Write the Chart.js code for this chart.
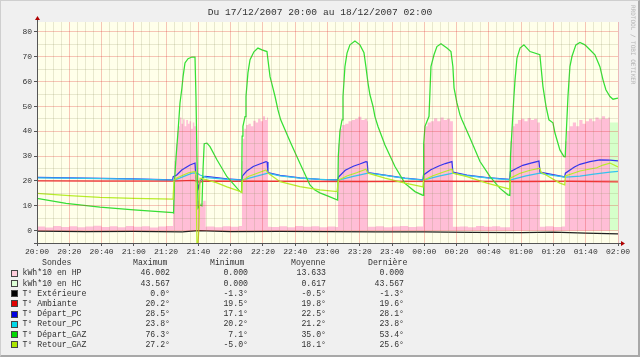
<!DOCTYPE html>
<html><head><meta charset="utf-8">
<script src="https://cdn.jsdelivr.net/npm/chart.js@4/dist/chart.umd.min.js"></script>
<style>
html,body{margin:0;padding:0;background:#f0f0f0;}
#frame{position:relative;width:640px;height:357px;background:#f0f0f0;overflow:hidden;font-family:'Liberation Mono','DejaVu Sans Mono',monospace;color:#333;}
#wrap{position:absolute;left:0;top:0;width:640px;height:357px;}
#border{position:absolute;left:0;top:0;width:640px;height:357px;box-sizing:border-box;border:1px solid #cfcfcf;border-right:2px solid #a8a8a8;border-bottom:2px solid #a8a8a8;pointer-events:none;}
#title{position:absolute;left:0;top:6px;width:640px;text-align:center;font-size:9.6px;line-height:13px;color:#333;white-space:pre;}
#wm{position:absolute;left:630px;top:5px;writing-mode:vertical-rl;font-size:6px;color:#b4b4b4;font-family:'DejaVu Sans Mono',monospace;white-space:pre;}
.cell{position:absolute;font-size:8.2px;line-height:10px;white-space:pre;color:#333;}
.r{text-align:right;}
.box{position:absolute;width:7px;height:7px;box-sizing:border-box;border:1px solid #444;}
</style></head>
<body>
<div id="frame">
<div id="wrap"><canvas id="c"></canvas></div>
<div id="title">Du 17/12/2007 20:00 au 18/12/2007 02:00</div>
<div id="wm">RRDTOOL / TOBI OETIKER</div>
<div id="legend"></div>
<div id="border"></div>
</div>
<script>
// ---- time axis (minutes after 20:00) and tick labels
const X_MIN = 0, X_MAX = 360;
const Y_MIN = -5, Y_MAX = 84;

// ---- series (time in minutes, value)
const T_HP = [0,5,10,15,20,25,30,35,40,45,50,55,60,65,70,75,80,
 84.3,85.2,86.0,86.8,87.7,88.6,89.5,90.5,91.5,92.5,93.5,94.5,95.5,96.5,97.5,98.5,99.1,101,103,104.5,
 105,110,115,120,125,
 127,127.6,128.5,129.5,131,132.5,134,135.5,137,138.5,140,141.3,142.5,143.1,
 145,150,155,160,165,170,175,180,185,
 186.5,187.5,189,191,193,195,197,199,201,203,204.5,205.1,
 210,215,220,225,230,235,
 239.2,240.5,242,244,246,248,250,252,254,256,257.7,
 262,267,272,277,282,287,
 293.1,294.5,296,298,300,302,304,306,308,310,311.6,
 315,320,325,
 327.1,328.5,330,332,334,336,338,340,342,344,346,348,350,352,354,355,360];
const V_HP = [1.6,1.2,1.8,1.4,1.7,1.3,1.6,1.9,1.4,1.7,1.3,1.8,1.5,1.7,1.2,1.6,1.8,
 18,28,35,40,42,45.5,43,44.8,42,44.5,43,44,41,43.5,42,40,12,11,12,1.5,
 1.6,1.3,1.7,1.5,1.8,
 28,37,41,42.5,43,42,44.2,43.5,45,44,46,44.5,45.5,1.5,
 1.4,1.7,1.3,1.8,1.5,1.7,1.3,1.6,1.4,
 35,41,42.5,43,44,44.5,45,45.8,44.5,45,44,1.5,
 1.7,1.3,1.6,1.8,1.4,1.6,
 35,42,43.5,44,45.2,44,45.5,44.5,45,44,1.5,
 1.6,1.3,1.8,1.5,1.7,1.3,
 36,42,43,44.5,45,44,45.3,44.5,45,43.5,1.5,
 1.7,1.4,1.6,
 36,40,42,43.5,42,44.5,43,44,45,44,45.5,44.8,46,45,45.5,0,0];

const T_HC = [0,355,360];
const V_HC = [0,43.567,43.567];

const T_EX = [0,30,60,90,100,120,150,180,210,240,270,300,320,340,360];
const V_EX = [-0.2,-0.4,-0.3,-0.5,0.0,-0.4,-0.3,-0.4,-0.5,-0.5,-0.7,-0.8,-0.6,-1.0,-1.3];

const T_AM = [0,40,84,97,100.5,104,150,200,250,300,330,360];
const V_AM = [20.0,19.9,19.9,20.2,19.5,19.9,19.8,19.7,19.8,19.7,19.8,19.6];

const T_DP = [0,30,60,84.0,84.4,86.6,89.7,94.8,97.9,98.6,99.3,100.2,101.0,102.5,104.0,107.2,117.7,126.9,127.3,130,
 134,138,141.9,142.6,143.1,150.6,162.9,175.3,186.4,186.8,191,196,200,203.8,204.6,205.1,215.6,228.0,239.1,239.5,
 244,249,253,257.1,257.7,266.4,278.8,292.9,293.3,297,301,306,311.0,311.7,319.7,327.0,327.4,333,336.4,342.6,348.8,355.0,360];
const V_DP = [21.4,21.1,20.8,20.4,21.7,22.4,24.4,26.4,27.2,19.8,19.5,17.1,19.7,21.3,21.8,21.6,20.8,20.4,22,24,
 25.8,26.8,27.8,27.6,23.3,22.2,21.2,20.6,20.4,21.6,24.3,25.9,26.8,27.8,27.6,23.3,22.3,21.1,20.4,22.4,
 24.5,26,27,27.8,23.5,22.3,21.3,20.6,23.7,25,26.3,27.2,28.0,23.5,22.5,21.6,23.1,25.6,26.7,27.8,28.5,28.4,28.1];

const T_RP = [0,30,60,84.3,85.5,91,96.5,99.5,101.0,105.3,117.7,127.0,128,135,142.5,143.5,150.6,162.9,175.3,186.5,
 188,196,205.1,215.6,228.0,239.2,240.5,249,257.7,266.4,278.8,293.1,294,303,311.6,315.4,327.1,330,336.4,345,355,360];
const V_RP = [21.2,21.0,20.7,20.3,20.4,21.8,23.2,23.0,22.4,21.3,20.6,20.3,20.5,21.7,23.0,23.0,22.0,21.1,20.6,20.3,
 20.5,21.8,23.1,22.2,21.0,20.3,20.5,21.9,23.1,22.1,21.2,20.4,20.5,22.0,23.1,22.6,21.5,21.6,21.9,22.7,23.5,23.8];

const T_DG = [0,18,39,60,84.3,84.6,85.2,86.2,87.4,88.6,89.8,90.5,91.7,93.6,96.0,97.9,98.5,99.1,99.8,101.0,
 102.2,102.9,103.6,105.3,107.2,111.5,117.7,125.8,126.8,127.1,127.6,128.9,129.5,130.7,132.0,134.4,136.9,139.4,142.5,143.1,
 144.4,146.2,147.5,149.3,151.0,156.8,162.9,169.1,172.2,175.3,180,186.3,186.7,187.7,189.0,189.6,190.8,192.1,193.9,197.0,
 200.1,202.6,203.8,205.1,206.3,208.2,209.4,211.3,215.6,221.8,228.0,234.2,238.5,239.2,239.6,240.4,242.9,244.1,246.0,247.8,
 250.3,254.0,256.5,257.7,258.4,260.2,262.1,263.3,268.3,274.5,280.7,286.9,291.8,293.0,293.4,294.3,295.5,296.2,297.4,299.3,
 301.7,305.5,311.6,312.3,313.5,315.4,317.2,319.7,320.9,324.0,326.5,327.3,328.0,329.0,330.2,331.5,333.9,336.4,339.5,342.6,
 345.7,348.8,350.7,352.5,355.0,356.9,360];
const V_DG = [13.0,11.0,9.4,8.3,7.2,7.1,20,30,40,51.4,57.4,62,67.5,69.2,69.9,69.9,54,30,9.1,10.3,
 10,25,35,35.2,33.8,28.5,21.7,15.7,15.4,38,42,45.9,54,63.5,68.8,72,73.5,72.8,72.1,68.8,
 62,57.4,54,48.6,44.6,35.9,27.1,18.4,16.3,15.2,14,12.3,30,40,44.6,54,66,71.5,74.8,76.3,
 74.8,71.6,66,59.4,54.7,50,45.9,41.9,34.5,25.8,19,15.7,14.4,14.2,35,42,46,66,70.8,74.1,
 75.2,73.5,72.1,66,57.5,51.4,46.6,44.6,37.3,27.8,21.7,17,14.4,14.2,30,40.5,54,60.7,69.5,73.5,
 74.8,72.1,70.8,66,58,50,44.6,43.4,39.4,32.5,29.8,29.7,40,54,66,70.2,74.8,75.8,74.8,72.8,
 70.8,66,60.7,56.7,54,52.9,53.4];

const T_RG = [0,20,39,60,84.3,84.9,86,90,94,97.9,98.5,99.1,99.8,100.4,101.0,105.3,111.5,117.7,125.8,126.9,
 127.2,131,136,141.9,143.1,150.6,162.9,175.3,185.9,186.4,186.8,192,198,203.8,205.1,215.6,228.0,238.5,239.1,239.5,
 245,251,257.1,257.7,266.4,278.8,292.9,293.3,299,305,311.6,312.3,315.4,324.0,327.0,327.4,336.4,346.8,350.7,355.0,356.9,360];
const V_RG = [15.0,14.1,13.4,13.0,12.7,20.3,21,22.2,23.3,23.8,22,-5,-5,2,21.1,20.4,19.2,17.6,15.8,15.3,
 20,21.8,23,24.4,23.2,19.7,17.7,16.4,15.7,15.7,20.3,22,23.3,24.7,23.1,21.1,19.1,17.7,17.6,20.3,
 22,23.4,24.7,23.1,21.7,19.1,16.7,21.1,23,24.2,25.1,23.5,22.4,19.1,18.4,22,24.0,25.3,26.4,27.2,26.6,25.6];

// ---- legend table
const LEG_LABELS = ['kWh*10 en HP','kWh*10 en HC','T° Extérieure','T° Ambiante','T° Départ_PC','T° Retour_PC','T° Départ_GAZ','T° Retour_GAZ'];
const LEG_MAX = ['46.002','43.567','0.0°','20.2°','28.5°','23.8°','76.3°','27.2°'];
const LEG_MIN = ['0.000','0.000','-1.3°','19.5°','17.1°','20.2°','7.1°','-5.0°'];
const LEG_AVG = ['13.633','0.617','-0.5°','19.8°','22.5°','21.2°','35.0°','18.1°'];
const LEG_LAST = ['0.000','43.567','-1.3°','19.6°','28.1°','23.8°','53.4°','25.6°'];
const LEG_BOX = ['#ffccdc','#dcffd6','#000000','#e00000','#0000e0','#00d8e8','#00d800','#aae600'];
const LEG_HEAD = ['Sondes','Maximum','Minimum','Moyenne','Dernière'];

// build legend
(function(){
  const L = document.getElementById('legend');
  const headX = [42,133,210,291,368];
  const rightX = [170,248,326,404];
  const add = (txt, css) => { const d=document.createElement('div'); d.className='cell'+(css.r?' r':''); d.textContent=txt;
    d.style.top=css.top+'px'; if(css.r){ d.style.right=(640-css.x)+'px'; } else { d.style.left=css.x+'px'; } L.appendChild(d); };
  LEG_HEAD.forEach((h,i)=>add(h,{x:headX[i],top:258.3}));
  for(let i=0;i<LEG_LABELS.length;i++){
    const cy = 273.3 + i*10.2;
    const b=document.createElement('div'); b.className='box'; b.style.left='11px'; b.style.top=(cy-3.5)+'px'; b.style.background=LEG_BOX[i]; L.appendChild(b);
    add(LEG_LABELS[i],{x:22.5,top:cy-5});
    [LEG_MAX,LEG_MIN,LEG_AVG,LEG_LAST].forEach((col,j)=>add(col[i],{x:rightX[j],top:cy-5,r:true}));
  }
})();

const pts = (t,v) => t.map((x,i)=>({x:x, y:v[i]}));
const fmtTime = v => { const h=(20+Math.floor(v/60))%24, m=v%60; return String(h).padStart(2,'0')+':'+String(m).padStart(2,'0'); };

const MAJOR = 'rgba(220,40,40,0.27)';
const MINOR = 'rgba(140,140,90,0.2)';

const bgPlugin = {
  id:'plotbg',
  beforeDraw(chart){
    const {ctx, chartArea:a} = chart;
    ctx.save(); ctx.fillStyle='#ffffea'; ctx.fillRect(a.left,a.top,a.right-a.left,a.bottom-a.top); ctx.restore();
  },
  afterDraw(chart){
    const {ctx, chartArea:a} = chart;
    ctx.save();
    ctx.strokeStyle='#555'; ctx.lineWidth=1;
    ctx.beginPath();
    ctx.moveTo(a.left+0.5, a.bottom+3); ctx.lineTo(a.left+0.5, a.top-3);
    ctx.moveTo(a.left-3, a.bottom+0.5); ctx.lineTo(a.right+3, a.bottom+0.5);
    ctx.stroke();
    ctx.fillStyle='#b00000';
    ctx.beginPath(); ctx.moveTo(a.left+0.5, a.top-6); ctx.lineTo(a.left-2, a.top-2); ctx.lineTo(a.left+3, a.top-2); ctx.closePath(); ctx.fill();
    ctx.beginPath(); ctx.moveTo(a.right+7, a.bottom+0.5); ctx.lineTo(a.right+3, a.bottom-2); ctx.lineTo(a.right+3, a.bottom+3); ctx.closePath(); ctx.fill();
    ctx.restore();
  }
};

const line = (label, t, v, color, order) => ({label, data:pts(t,v), borderColor:color, borderWidth:1.25, pointRadius:0, fill:false, tension:0, order});
const area = (label, t, v, color, order) => ({label, data:pts(t,v), borderColor:'rgba(0,0,0,0)', borderWidth:0, backgroundColor:color, pointRadius:0, fill:'origin', stepped:true, tension:0, order});

new Chart(document.getElementById('c'), {
  type:'line',
  data:{ datasets:[
    area('kWh*10 en HP', T_HP, V_HP, '#ffbed6', 8),
    area('kWh*10 en HC', T_HC, V_HC, '#d6ffca', 7),
    line('T° Extérieure', T_EX, V_EX, '#202020', 6),
    line('T° Ambiante', T_AM, V_AM, '#f03434', 5),
    line('T° Départ_PC', T_DP, V_DP, '#3434f0', 4),
    line('T° Retour_PC', T_RP, V_RP, '#34c4f0', 3),
    line('T° Départ_GAZ', T_DG, V_DG, '#34e034', 2),
    line('T° Retour_GAZ', T_RG, V_RG, '#b8ee2a', 1)
  ]},
  options:{
    responsive:true, maintainAspectRatio:false, animation:false,
    layout:{ padding:{left:0, top:22, right:22, bottom:94} },
    plugins:{ legend:{display:false}, title:{display:false}, tooltip:{enabled:false} },
    scales:{
      x:{ type:'linear', min:X_MIN, max:X_MAX,
        afterFit(s){ s.height = 20; },
        border:{display:false},
        grid:{ z:1, lineWidth:1, tickLength:3,
          color:c => { const v=c.tick.value; if(v===0) return 'rgba(0,0,0,0)'; return v%20===0?MAJOR:MINOR; },
          tickColor:c => c.tick.value%20===0 ? '#555' : 'rgba(0,0,0,0)' },
        ticks:{ stepSize:5, autoSkip:false, maxRotation:0, includeBounds:false, padding:1,
          font:{family:"'Liberation Mono','DejaVu Sans Mono',monospace", size:8}, color:'#333',
          callback:v => v%20===0 ? fmtTime(v) : '' }
      },
      y:{ type:'linear', min:Y_MIN, max:Y_MAX,
        afterFit(s){ s.width = 37; },
        border:{display:false},
        grid:{ z:1, lineWidth:1, tickLength:3,
          color:c => { const v=c.tick.value; if(v===-5) return 'rgba(0,0,0,0)'; return v%10===0?MAJOR:MINOR; },
          tickColor:c => (c.tick.value%10===0 && c.tick.value>=0) ? '#555' : 'rgba(0,0,0,0)' },
        ticks:{ stepSize:5, autoSkip:false, includeBounds:false, padding:2,
          font:{family:"'Liberation Mono','DejaVu Sans Mono',monospace", size:8}, color:'#333',
          callback:v => (v%10===0 && v>=0) ? String(v) : '' }
      }
    }
  },
  plugins:[bgPlugin]
});
</script>
</body></html>
